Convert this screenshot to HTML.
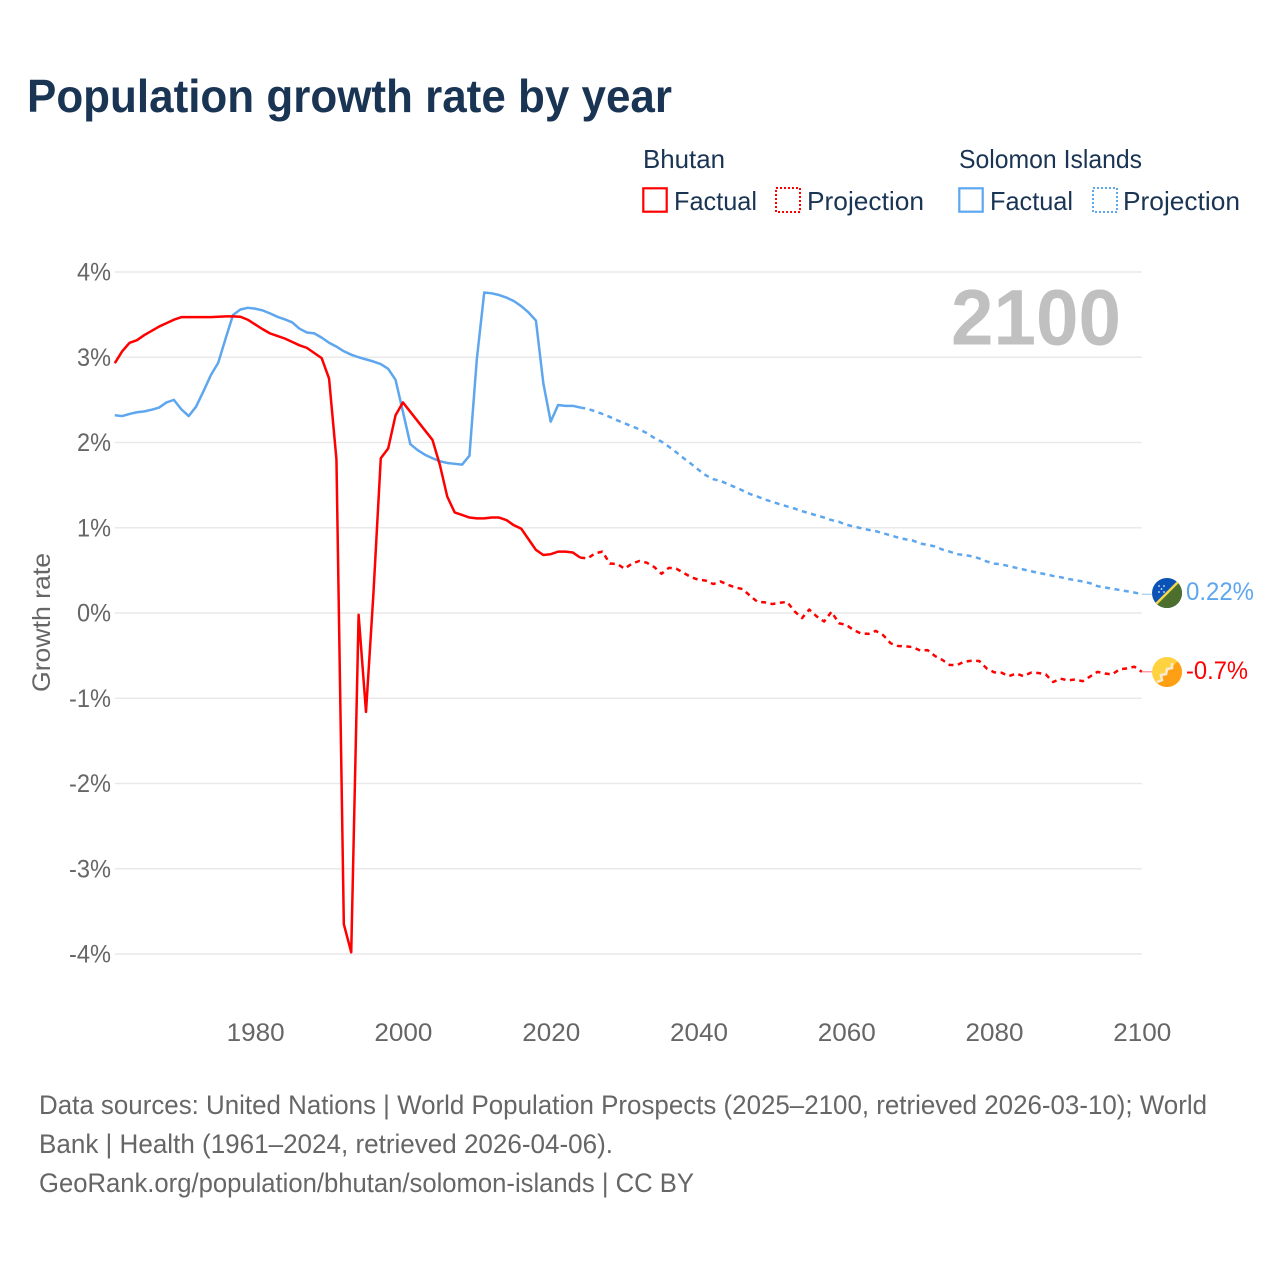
<!DOCTYPE html>
<html lang="en">
<head>
<meta charset="utf-8">
<title>Population growth rate by year</title>
<style>
html,body{margin:0;padding:0;background:#fff;width:1280px;height:1280px;overflow:hidden}
svg{display:block}
text{font-family:"Liberation Sans",sans-serif}
</style>
</head>
<body>
<svg id="chart" width="1280" height="1280" viewBox="0 0 1280 1280" xmlns="http://www.w3.org/2000/svg">
  <rect width="1280" height="1280" fill="#fff"/>
  <text x="27" y="112" font-size="46" font-weight="700" fill="#1a3454" textLength="645" lengthAdjust="spacingAndGlyphs">Population growth rate by year</text>

  <g font-size="26" fill="#1a3454">
    <text x="643" y="168" textLength="82" lengthAdjust="spacingAndGlyphs">Bhutan</text>
    <text x="959" y="168" textLength="183" lengthAdjust="spacingAndGlyphs">Solomon Islands</text>
    <g>
      <rect x="643.3" y="188.3" width="23.4" height="23.4" fill="none" stroke="#ff0000" stroke-width="2.2"/>
      <text x="674" y="210" textLength="83" lengthAdjust="spacingAndGlyphs">Factual</text>
    </g>
    <g>
      <rect x="776" y="188" width="24" height="24" fill="none" stroke="#ff0000" stroke-width="2" stroke-dasharray="2 2"/>
      <text x="807" y="210" textLength="117" lengthAdjust="spacingAndGlyphs">Projection</text>
    </g>
    <g>
      <rect x="959.3" y="188.3" width="23.4" height="23.4" fill="none" stroke="#5ea6ee" stroke-width="2.2"/>
      <text x="990" y="210" textLength="83" lengthAdjust="spacingAndGlyphs">Factual</text>
    </g>
    <g>
      <rect x="1093" y="188" width="24" height="24" fill="none" stroke="#5ea6ee" stroke-width="2" stroke-dasharray="2 2"/>
      <text x="1123" y="210" textLength="117" lengthAdjust="spacingAndGlyphs">Projection</text>
    </g>
  </g>

  <g id="grid"></g>
  <g id="yticks"></g>
  <g id="xticks"></g>
  <text transform="translate(50,692) rotate(-90)" font-size="25" fill="#666" textLength="139" lengthAdjust="spacingAndGlyphs">Growth rate</text>

  <text x="951" y="344.5" font-size="79" font-weight="700" fill="#c0c0c0" textLength="170" lengthAdjust="spacingAndGlyphs">2100</text>

  <g id="series"></g>

  <g>
    <clipPath id="clipSb"><circle cx="1167" cy="593" r="15"/></clipPath>
    <g clip-path="url(#clipSb)">
      <rect x="1150" y="576" width="34" height="34" fill="#0a52b5"/>
      <polygon points="1150,610 1184,610 1184,576" fill="#4d6f2e"/>
      <line x1="1153" y1="607" x2="1181" y2="579" stroke="#f4d84a" stroke-width="2.4"/>
      <g fill="#dfe8f6">
        <circle cx="1159" cy="586" r="0.9"/><circle cx="1164" cy="586" r="0.9"/><circle cx="1161.5" cy="589" r="0.9"/><circle cx="1159" cy="592" r="0.9"/><circle cx="1164" cy="592" r="0.9"/>
      </g>
    </g>
  </g>
  <g>
    <clipPath id="clipBt"><circle cx="1167" cy="672" r="15"/></clipPath>
    <g clip-path="url(#clipBt)">
      <rect x="1150" y="655" width="34" height="34" fill="#ffd23f"/>
      <polygon points="1150,689 1184,689 1184,655" fill="#ff9f14"/>
      <path d="M1157 682 L1162 680 L1161 675 L1166 674 L1167 669 L1172 668 L1172 663" fill="none" stroke="#f5ead2" stroke-width="2.6"/>
    </g>
  </g>
  <text x="1186" y="600" font-size="25" fill="#5ea6ee" textLength="68" lengthAdjust="spacingAndGlyphs">0.22%</text>
  <text x="1186" y="679" font-size="25" fill="#ff0000" textLength="62" lengthAdjust="spacingAndGlyphs">-0.7%</text>

  <g font-size="26.5" fill="#666">
    <text x="39" y="1114" textLength="1168" lengthAdjust="spacingAndGlyphs">Data sources: United Nations | World Population Prospects (2025–2100, retrieved 2026-03-10); World</text>
    <text x="39" y="1153" textLength="574" lengthAdjust="spacingAndGlyphs">Bank | Health (1961–2024, retrieved 2026-04-06).</text>
    <text x="39" y="1192" textLength="655" lengthAdjust="spacingAndGlyphs">GeoRank.org/population/bhutan/solomon-islands | CC BY</text>
  </g>
</svg>
<script>
var yTickValues = [4, 3, 2, 1, 0, -1, -2, -3, -4];
var xTickYears = [1980, 2000, 2020, 2040, 2060, 2080, 2100];
var factualStartYear = 1961;
var projectionStartYear = 2024;

var bhutanFactual = [2.93,3.07,3.17,3.20,3.26,3.31,3.36,3.40,3.44,3.47,3.47,3.47,3.47,3.47,3.475,3.48,3.48,3.475,3.44,3.385,3.33,3.28,3.25,3.22,3.18,3.14,3.11,3.05,2.99,2.75,1.80,-3.65,-3.98,-0.02,-1.16,0.22,1.815,1.93,2.32,2.47,2.36,2.25,2.14,2.03,1.736,1.365,1.18,1.15,1.12,1.11,1.11,1.12,1.12,1.09,1.03,0.99,0.865,0.74,0.68,0.69,0.72,0.72,0.71,0.65];
var bhutanProjection = [0.65,0.64,0.70,0.72,0.58,0.575,0.52,0.58,0.61,0.59,0.54,0.46,0.53,0.52,0.47,0.42,0.39,0.38,0.34,0.37,0.33,0.30,0.28,0.20,0.13,0.125,0.105,0.12,0.13,0.02,-0.06,0.04,-0.04,-0.10,0.015,-0.12,-0.14,-0.20,-0.24,-0.245,-0.21,-0.26,-0.355,-0.387,-0.39,-0.40,-0.44,-0.435,-0.504,-0.55,-0.61,-0.61,-0.57,-0.56,-0.563,-0.65,-0.695,-0.70,-0.74,-0.71,-0.74,-0.70,-0.704,-0.72,-0.81,-0.77,-0.79,-0.78,-0.80,-0.745,-0.69,-0.71,-0.72,-0.66,-0.65,-0.63,-0.69];
var solomonFactual = [2.32,2.31,2.335,2.355,2.365,2.385,2.41,2.47,2.50,2.39,2.31,2.42,2.60,2.79,2.935,3.22,3.495,3.56,3.58,3.57,3.55,3.515,3.475,3.445,3.41,3.335,3.29,3.28,3.23,3.17,3.125,3.07,3.03,3.0,2.975,2.95,2.92,2.865,2.735,2.36,1.98,1.91,1.855,1.815,1.78,1.76,1.75,1.74,1.845,2.98,3.76,3.75,3.73,3.70,3.66,3.60,3.525,3.43,2.695,2.245,2.44,2.43,2.43,2.41];
var solomonProjection = [2.41,2.395,2.365,2.335,2.30,2.26,2.225,2.19,2.155,2.11,2.055,2.01,1.95,1.885,1.815,1.75,1.68,1.615,1.57,1.55,1.51,1.475,1.435,1.395,1.365,1.33,1.305,1.275,1.25,1.225,1.195,1.17,1.145,1.12,1.09,1.07,1.035,1.015,0.995,0.975,0.96,0.935,0.91,0.885,0.865,0.85,0.815,0.80,0.78,0.745,0.72,0.69,0.68,0.665,0.64,0.605,0.58,0.57,0.55,0.53,0.51,0.49,0.47,0.455,0.435,0.42,0.40,0.385,0.37,0.35,0.315,0.30,0.285,0.27,0.255,0.24,0.22];

var NS = 'http://www.w3.org/2000/svg';
var RED = '#ff0000';
var BLUE = '#5ea6ee';
function xScale(year) { return 107.4 + (year - 1960) * (1141.8 - 107.4) / 140; }
function yScale(value) { return 613 - value * 85.25; }

function linePath(values, startYear) {
  return values.map(function (v, i) {
    return (i ? 'L' : 'M') + xScale(startYear + i).toFixed(2) + ' ' + yScale(v).toFixed(2);
  }).join(' ');
}
function addSeries(parent, name, values, startYear, color, dashed) {
  var p = document.createElementNS(NS, 'path');
  
  
  p.setAttribute('d', linePath(values, startYear));
  p.setAttribute('fill', 'none');
  p.setAttribute('stroke', color);
  p.setAttribute('stroke-width', '2.5');
  p.setAttribute('stroke-linejoin', 'round');
  if (dashed) p.setAttribute('stroke-dasharray', '5 4.5');
  parent.appendChild(p);
}
function addConnector(parent, name, values, color) {
  var l = document.createElementNS(NS, 'line');
  var yv = yScale(values[values.length - 1]);
  
  
  l.setAttribute('x1', xScale(2100));
  l.setAttribute('x2', xScale(2100) + 10);
  l.setAttribute('y1', yv);
  l.setAttribute('y2', yv);
  l.setAttribute('stroke', color);
  l.setAttribute('stroke-width', '1');
  parent.appendChild(l);
}

var grid = document.getElementById('grid');
var yticks = document.getElementById('yticks');
var xticks = document.getElementById('xticks');
var series = document.getElementById('series');

yTickValues.forEach(function (v) {
  var l = document.createElementNS(NS, 'line');
  
  
  l.setAttribute('x1', xScale(1961));
  l.setAttribute('x2', xScale(2100));
  l.setAttribute('y1', yScale(v));
  l.setAttribute('y2', yScale(v));
  l.setAttribute('stroke', '#e9e9e9');
  l.setAttribute('stroke-width', '1.5');
  grid.appendChild(l);

  var t = document.createElementNS(NS, 'text');
  
  
  t.setAttribute('x', 111);
  t.setAttribute('y', yScale(v) + 8.5);
  t.setAttribute('text-anchor', 'end');
  t.setAttribute('font-size', '25');
  t.setAttribute('fill', '#666');
  t.setAttribute('textLength', v < 0 ? 42 : 34);
  t.setAttribute('lengthAdjust', 'spacingAndGlyphs');
  t.textContent = v + '%';
  yticks.appendChild(t);
});

xTickYears.forEach(function (yr) {
  var t = document.createElementNS(NS, 'text');
  
  
  t.setAttribute('x', xScale(yr) + 0.5);
  t.setAttribute('y', 1041);
  t.setAttribute('text-anchor', 'middle');
  t.setAttribute('font-size', '25');
  t.setAttribute('fill', '#666');
  t.setAttribute('textLength', 58);
  t.setAttribute('lengthAdjust', 'spacingAndGlyphs');
  t.textContent = yr;
  xticks.appendChild(t);
});

addSeries(series, 'line-solomon-islands-factual', solomonFactual, factualStartYear, BLUE, false);
addSeries(series, 'line-solomon-islands-projection', solomonProjection, projectionStartYear, BLUE, true);
addSeries(series, 'line-bhutan-factual', bhutanFactual, factualStartYear, RED, false);
addSeries(series, 'line-bhutan-projection', bhutanProjection, projectionStartYear, RED, true);
addConnector(series, 'connector-solomon-islands', solomonProjection, '#8fc0f2');
addConnector(series, 'connector-bhutan', bhutanProjection, '#ff7070');
</script>
</body>
</html>
